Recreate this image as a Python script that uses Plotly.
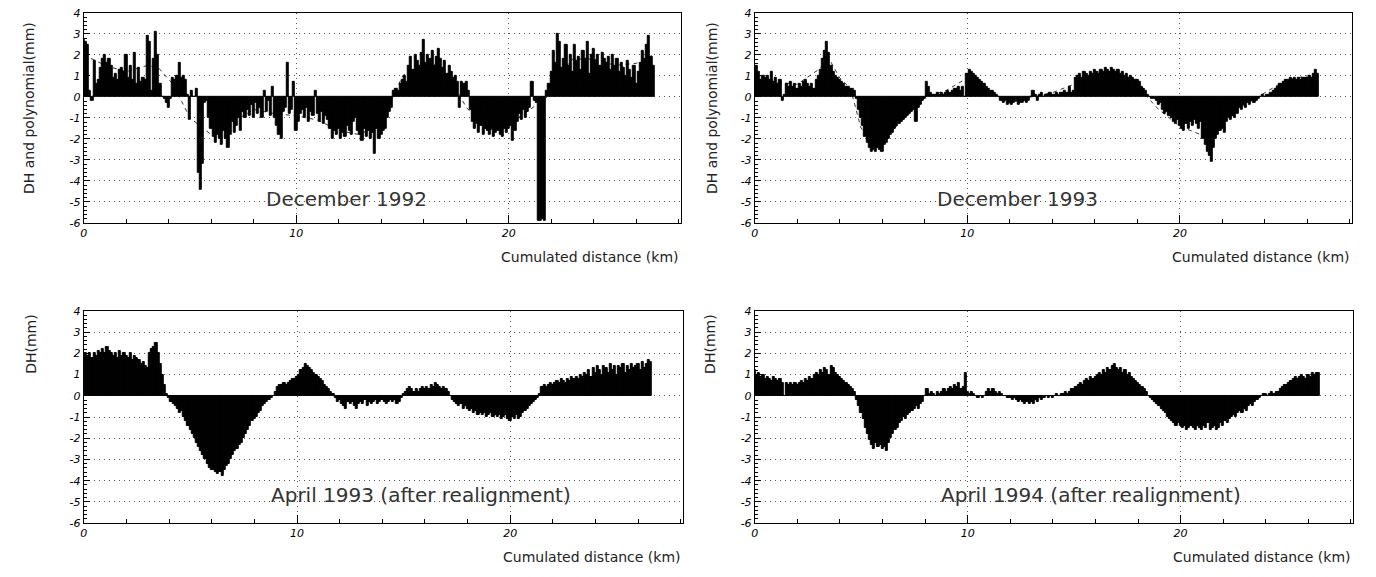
import numpy as np
import plotly.graph_objects as go

# ---------------- data (DH in mm, sampled every 0.1 km from 0 km) ----------------
step_km = 0.1

dec1992 = [
    2.7, 2.6, 2.5, 0.3, -0.2, 1.7, 0.6, 0.8, 1.4, 1.8,
    2.0, 1.6, 1.8, 1.5, 0.9, 1.1, 0.8, 1.3, 1.4, 1.2,
    2.0, 0.9, 1.5, 0.8, 2.1, 0.6, 1.4, 0.7, 0.9, 0.8,
    2.9, 2.6, 0.3, 1.8, 3.1, 2.0, 0.6, 0.0, -0.1, -0.3,
    -0.5, -0.1, 0.9, 0.8, 1.0, 1.6, 0.9, 1.0, 0.8, 0.1,
    -1.1, 0.3, 0.0, 0.4, -3.6, -4.4, -3.2, -0.3, -0.2, -1.0,
    -1.5, -1.9, -2.2, -1.8, -2.0, -2.3, -1.6, -2.0, -2.4, -1.8,
    -1.2, -1.7, -1.4, -1.0, -1.6, -0.7, -1.0, -0.6, -0.9, -0.4,
    -1.0, -0.3, -0.8, -0.5, -1.0, 0.3, -0.7, -0.2, -0.9, 0.5,
    -1.0, -1.4, -1.8, -2.0, -0.7, -0.5, 1.6, -0.8, -0.6, 0.7,
    -1.6, -1.2, -0.8, -0.6, -1.0, -0.5, -1.2, -0.7, -0.9, 0.3,
    -0.8, -1.2, -0.7, -1.3, -0.9, -1.1, -1.5, -2.0, -1.6, -1.8,
    -1.5, -2.0, -1.7, -1.9, -1.4, -1.6, -1.8, -1.2, -1.0, -1.6,
    -1.8, -2.1, -1.5, -1.9, -1.6, -2.0, -1.7, -2.7, -1.5, -2.0,
    -1.8, -1.6, -1.5, -1.0, -0.7, -0.5, 0.3, 0.4, 0.3, 0.6,
    0.8, 1.0, 0.7, 1.5, 1.9, 1.3, 2.0, 1.7, 1.5, 2.1,
    2.7, 1.6, 2.0, 1.8, 2.2, 1.5, 1.9, 2.3, 1.8, 1.4,
    1.7, 1.1, 1.5, 1.2, 0.9, 1.0, 0.7, -0.5, 0.7, 0.6,
    0.7, 0.3, -0.6, -1.2, -1.5, -1.3, -1.7, -1.4, -1.8, -1.5,
    -1.6, -1.8, -1.5, -1.9, -1.7, -1.6, -1.8, -1.9, -1.5, -1.7,
    -1.5, -1.4, -2.1, -1.6, -1.2, -0.8, -1.1, -0.6, -1.0, -0.7,
    -0.5, 0.7, -0.2, -0.3, -5.9, -5.9, -5.8, -5.9, 0.3, 0.6,
    1.2, 2.2, 1.6, 3.0, 2.6, 1.4, 1.8, 2.5, 1.5, 2.0,
    1.2, 2.5, 1.7, 1.9, 1.3, 2.2, 1.8, 2.6, 1.1, 2.0,
    2.3, 1.7, 2.0, 1.5, 2.1, 1.8, 1.6, 1.9, 1.3, 2.0,
    1.5, 1.8, 1.2, 1.6, 1.4, 1.0, 1.7, 1.3, 0.9, 1.5,
    0.6, 1.2, 1.6, 2.2, 1.8, 2.5, 2.9, 1.9, 1.5,
]

dec1993 = [
    1.4, 1.5, 1.2, 0.8, 1.0, 0.9, 1.0, 0.8, 1.2, 0.7,
    0.9, 0.6, 0.8, -0.2, 0.1, 0.6, 0.5, 0.7, 0.5, 0.6,
    0.4, 0.6, 0.5, 0.7, 0.8, 0.6, 0.5, 0.6, 0.4, 0.8,
    1.0, 1.3, 1.8, 2.2, 2.6, 2.1, 1.5, 1.2, 1.0, 0.9,
    0.8, 0.7, 0.6, 0.5, 0.5, 0.4, 0.4, 0.3, -0.1, -0.6,
    -1.0, -1.4, -1.9, -2.2, -2.4, -2.6, -2.5, -2.6, -2.4, -2.5,
    -2.6, -2.3, -2.2, -2.0, -1.8, -1.7, -1.5, -1.4, -1.3, -1.2,
    -1.1, -1.0, -0.9, -0.8, -0.7, -0.6, -1.2, -0.5, -0.4, -0.2,
    -0.1, 0.7, 0.5, 0.2, 0.1, 0.1, 0.2, 0.1, 0.2, 0.1,
    0.2, 0.3, 0.2, 0.3, 0.4, 0.4, 0.5, 0.3, 0.5, 0.0,
    1.1, 1.3, 1.2, 1.1, 1.0, 0.9, 0.8, 0.7, 0.6, 0.5,
    0.4, 0.3, 0.3, 0.2, 0.1, 0.0, -0.2, -0.3, -0.2, -0.4,
    -0.3, -0.4, -0.3, -0.2, -0.4, -0.3, -0.3, -0.2, -0.3, -0.2,
    0.0, 0.3, 0.1, -0.2, 0.1, 0.2, 0.0, 0.1, 0.1, 0.2,
    0.1, 0.1, 0.2, 0.1, 0.2, 0.2, 0.3, 0.2, 0.5, 0.2,
    0.3, 0.9, 1.0, 1.1, 0.9, 1.2, 1.1, 1.0, 1.2, 1.1,
    1.3, 1.2, 1.1, 1.3, 1.2, 1.4, 1.3, 1.2, 1.4, 1.3,
    1.2, 1.3, 1.1, 1.2, 1.0, 1.1, 0.9, 1.0, 0.9, 0.8,
    0.8, 0.7, 0.5, 0.4, 0.3, 0.1, 0.0, -0.1, -0.1, -0.2,
    -0.4, -0.3, -0.6, -0.8, -0.7, -0.9, -1.0, -1.2, -1.3, -1.1,
    -1.4, -1.5, -1.6, -1.3, -1.5, -1.2, -1.4, -1.1, -1.3, -1.5,
    -1.2, -2.0, -2.3, -2.6, -2.8, -3.1, -2.4, -2.0, -1.8, -1.6,
    -1.5, -1.7, -1.2, -1.0, -1.1, -0.9, -1.0, -0.8, -0.5, -0.6,
    -0.4, -0.5, -0.3, -0.4, -0.2, -0.3, -0.2, -0.1, 0.0, 0.1,
    0.0, 0.1, 0.1, 0.2, 0.3, 0.4, 0.5, 0.6, 0.6, 0.7,
    0.8, 0.8, 0.9, 0.8, 0.9, 0.8, 0.9, 0.8, 0.9, 0.9,
    0.9, 1.0, 0.9, 1.1, 1.3, 1.1,
]

apr1993 = [
    1.8, 2.0, 1.9, 2.0, 1.8, 2.0, 1.9, 2.1, 2.0, 2.2,
    2.0, 2.3, 2.1, 2.0, 1.9, 2.0, 1.8, 2.1, 1.9, 2.0,
    1.9, 1.8, 2.0, 1.7, 1.9, 1.8, 1.7, 1.5, 1.6, 1.4,
    1.3, 2.0, 2.2, 2.3, 2.5, 2.0, 1.5, 1.0, 0.5, 0.1,
    -0.1, -0.3, -0.4, -0.5, -0.6, -0.8, -0.7, -1.0, -1.2, -1.4,
    -1.6, -1.8, -2.0, -2.2, -2.4, -2.6, -2.8, -3.0, -3.2, -3.4,
    -3.5, -3.5, -3.6, -3.7, -3.6, -3.8, -3.5, -3.3, -3.2, -3.0,
    -2.8, -2.6, -2.5, -2.3, -2.2, -2.0, -1.8, -1.6, -1.4, -1.2,
    -1.1, -1.0, -0.8, -0.7, -0.5, -0.4, -0.3, -0.2, -0.1, 0.0,
    0.2, 0.4, 0.5, 0.5, 0.6, 0.5, 0.6, 0.7, 0.8, 0.8,
    0.9, 1.0, 1.2, 1.3, 1.5, 1.4, 1.3, 1.2, 1.1, 1.0,
    0.9, 0.8, 0.7, 0.5, 0.4, 0.3, 0.2, 0.1, -0.1, -0.3,
    -0.2, -0.4, -0.5, -0.6, -0.3, -0.4, -0.3, -0.5, -0.6, -0.4,
    -0.3, -0.4, -0.2, -0.5, -0.3, -0.4, -0.3, -0.2, -0.4, -0.3,
    -0.2, -0.3, -0.4, -0.3, -0.2, -0.3, -0.2, -0.4, -0.3, -0.1,
    0.1, 0.2, 0.3, 0.4, 0.3, 0.2, 0.3, 0.2, 0.3, 0.4,
    0.3, 0.4, 0.3, 0.5, 0.4, 0.6, 0.5, 0.4, 0.3, 0.4,
    0.3, 0.2, 0.0, -0.2, -0.3, -0.4, -0.5, -0.4, -0.6, -0.5,
    -0.6, -0.7, -0.6, -0.8, -0.7, -0.9, -0.8, -0.9, -0.8, -1.0,
    -0.9, -0.8, -1.0, -0.9, -1.0, -0.9, -1.1, -1.0, -0.9, -1.1,
    -1.2, -1.0, -1.1, -0.9, -1.1, -1.0, -0.8, -0.7, -0.6, -0.5,
    -0.4, -0.3, -0.2, -0.1, 0.1, 0.4, 0.5, 0.4, 0.5, 0.6,
    0.5, 0.6, 0.7, 0.6, 0.8, 0.7, 0.6, 0.8, 0.7, 0.9,
    0.8, 0.9, 0.8, 1.0, 0.9, 1.1, 1.0, 1.2, 0.9, 1.3,
    1.1, 1.4, 1.2, 1.0, 1.4, 1.3, 1.1, 1.5, 1.2, 1.4,
    1.0, 1.4, 1.3, 1.5, 1.1, 1.4, 1.2, 1.5, 1.3, 1.4,
    1.5, 1.2, 1.6, 1.3, 1.5, 1.7, 1.6,
]

apr1994 = [
    1.2, 1.0, 1.1, 0.9, 1.0, 0.8, 0.9, 0.8, 0.7, 0.9,
    0.8, 0.7, 0.8, 0.6, 0.0, 0.6, 0.5, 0.6, 0.5, 0.6,
    0.5, 0.6, 0.7, 0.6, 0.8, 0.7, 0.9, 0.8, 1.0, 1.1,
    1.0, 1.2, 1.1, 1.3, 1.2, 1.0, 1.4, 1.3, 1.1, 1.0,
    0.9, 0.8, 0.7, 0.6, 0.5, 0.4, 0.3, 0.2, -0.2, -0.5,
    -0.8, -1.1, -1.5, -1.8, -2.1, -2.3, -2.5, -2.2, -2.4, -2.3,
    -2.5, -2.4, -2.6, -2.2, -2.0, -1.8, -1.6, -1.5, -1.3, -1.2,
    -1.0, -1.1, -0.9, -0.8, -0.7, -0.6, -0.5, -0.6, -0.4, -0.3,
    0.0, 0.3, 0.1, 0.2, 0.1, 0.0, 0.2, 0.1, 0.2, 0.3,
    0.2, 0.3, 0.4, 0.3, 0.5, 0.4, 0.6, 0.3, 0.4, 1.1,
    0.2, 0.1, 0.2, 0.1, 0.0, -0.1, 0.0, -0.1, 0.0, 0.2,
    0.3, 0.2, 0.3, 0.2, 0.1, 0.2, 0.1, 0.0, 0.0, -0.1,
    -0.1, -0.2, -0.1, -0.2, -0.3, -0.2, -0.3, -0.4, -0.3, -0.4,
    -0.3, -0.4, -0.2, -0.3, -0.1, -0.2, -0.1, 0.0, -0.1, 0.0,
    -0.1, 0.0, 0.1, 0.0, 0.1, 0.1, 0.2, 0.1, 0.2, 0.3,
    0.3, 0.4, 0.5, 0.6, 0.5, 0.7, 0.8, 0.7, 0.9, 0.8,
    0.9, 1.0, 1.1, 1.0, 1.2, 1.1, 1.3, 1.2, 1.4, 1.5,
    1.3, 1.2, 1.3, 1.1, 1.2, 1.0, 1.1, 0.9, 0.8, 0.7,
    0.6, 0.5, 0.4, 0.3, 0.2, 0.0, -0.1, -0.2, -0.3, -0.4,
    -0.5, -0.6, -0.7, -0.8, -1.0, -1.1, -1.2, -1.3, -1.4, -1.3,
    -1.4, -1.5, -1.4, -1.6, -1.5, -1.4, -1.5, -1.6, -1.4, -1.5,
    -1.6, -1.4, -1.5, -1.3, -1.6, -1.5, -1.4, -1.6, -1.5, -1.3,
    -1.4, -1.2, -1.3, -1.1, -1.0, -0.9, -1.0, -0.8, -0.7, -0.8,
    -0.6, -0.7, -0.5, -0.4, -0.5, -0.3, -0.2, -0.1, 0.0, 0.1,
    0.1, 0.0, 0.1, 0.2, 0.1, 0.2, 0.2, 0.3, 0.4, 0.5,
    0.5, 0.6, 0.7, 0.8, 0.9, 0.8, 0.9, 1.0, 0.9, 0.8,
    1.0, 0.9, 1.1, 1.0, 1.1, 1.1,
]

# smooth polynomial fits drawn (dashed) on the upper panels
poly1992_km = [0, 1, 2, 3, 3.5, 4.2, 5, 6, 7, 8, 9, 10, 11, 12, 13, 14, 15, 16, 17, 18, 19, 20, 21, 21.8, 22.3, 23, 24, 25, 26, 26.8]
poly1992_mm = [2.0, 1.5, 1.2, 1.5, 1.4, 0.6, -1.0, -1.8, -1.2, -0.6, -0.8, -0.9, -1.1, -1.6, -1.8, -1.2, 1.0, 1.8, 1.3, -0.5, -1.6, -1.3, -0.6, 0.0, 1.0, 1.8, 1.8, 1.5, 1.6, 2.0]
poly1993_km = [0, 1, 2, 3, 3.5, 4, 4.5, 5, 6, 7, 8, 9, 10, 11, 12, 13, 14, 15, 16, 17, 18, 19, 20, 21, 22, 23, 24, 25, 26, 26.5]
poly1993_mm = [1.0, 0.7, 0.6, 1.3, 1.8, 0.9, 0.4, -1.5, -2.2, -1.0, 0.0, 0.3, 0.9, 0.3, -0.3, 0.0, 0.2, 0.6, 1.2, 1.1, 0.5, -0.6, -1.4, -1.8, -1.3, -0.4, 0.2, 0.8, 1.0, 1.1]

panel_titles = ["December 1992", "December 1993", "April 1993 (after realignment)", "April 1994 (after realignment)"]
y_titles = ["DH and polynomial(mm)", "DH and polynomial(mm)", "DH(mm)", "DH(mm)"]
x_title = "Cumulated distance (km)"
x_tick_vals = [0, 10, 20]
x_tick_text = ["0", "10", "20"]
y_tick_vals = [4, 3, 2, 1, 0, -1, -2, -3, -4, -5, -6]
y_tick_text = ["4", "3", "2", "1", "0", "-1", "-2", "-3", "-4", "-5", "-6"]

series = [dec1992, dec1993, apr1993, apr1994]
polys = [(poly1992_km, poly1992_mm), (poly1993_km, poly1993_mm), None, None]

# ---------------- layout geometry ----------------
W, H = 1376, 577
x_domains = [(80, 679), (753, 1352), (80, 681), (753, 1353)]
y_domains = [(7, 222), (7, 222), (312, 529), (312, 529)]
X_RANGE = [0, 28.1]
Y_RANGE = [-6, 4]

fig = go.Figure()
tick_font = dict(family="DejaVu Sans", size=11, color="black", style="italic")
label_font = dict(family="DejaVu Sans ExtraLight, DejaVu Sans", size=20, color="#333")
title_font = dict(family="DejaVu Sans ExtraLight, DejaVu Sans", size=14, color="#222")

layout_axes = {}
annotations = []
for i, vals in enumerate(series):
    n = i + 1
    xa = "x" if n == 1 else f"x{n}"
    ya = "y" if n == 1 else f"y{n}"
    xs = np.arange(len(vals)) * step_km
    fig.add_trace(go.Bar(x=xs, y=vals, width=step_km, xaxis=xa, yaxis=ya,
                         marker=dict(color="black", line=dict(color="black", width=1)),
                         showlegend=False))
    if polys[i] is not None:
        pk, pm = polys[i]
        fig.add_trace(go.Scatter(x=pk, y=pm, mode="lines", xaxis=xa, yaxis=ya,
                                 line=dict(color="black", width=0.8, dash="4px,4px"),
                                 showlegend=False))
    x0, x1 = x_domains[i]
    y0, y1 = y_domains[i]
    layout_axes[f"xaxis{'' if n == 1 else n}"] = dict(
        domain=[x0 / W, x1 / W], anchor=ya, range=X_RANGE,
        tickvals=x_tick_vals, ticktext=x_tick_text, tickfont=tick_font,
        ticks="inside", ticklen=8, tickcolor="black",
        minor=dict(dtick=2, tick0=0, ticks="inside", ticklen=4, tickcolor="black", showgrid=False),
        showgrid=True, gridcolor="#555", griddash="1px,4px", gridwidth=1,
        showline=True, linecolor="black", linewidth=1, mirror=True, zeroline=False,
    )
    layout_axes[f"yaxis{'' if n == 1 else n}"] = dict(
        domain=[1 - y1 / H, 1 - y0 / H], anchor=xa, range=Y_RANGE,
        tickvals=y_tick_vals, ticktext=y_tick_text, tickfont=tick_font,
        ticks="inside", ticklen=6, tickcolor="black",
        minor=dict(dtick=0.2, tick0=0, ticks="inside", ticklen=3, tickcolor="black", showgrid=False),
        showgrid=True, gridcolor="#555", griddash="1px,4px", gridwidth=1,
        showline=True, linecolor="black", linewidth=1, mirror=True, zeroline=False,
    )
    # panel label inside plot
    lab_x = 12.35 if i < 2 else 15.8
    lab_y = -4.85 if i < 2 else -4.66
    annotations.append(dict(text=panel_titles[i], xref=xa, yref=ya, x=lab_x, y=lab_y,
                            showarrow=False, font=label_font, xanchor="center", yanchor="middle"))
    # x title, right-aligned under the axis
    annotations.append(dict(text=x_title, xref="paper", yref="paper", x=x1 / W,
                            y=1 - (y1 + 35) / H, xanchor="right", yanchor="middle",
                            showarrow=False, font=title_font))
    # y title, rotated
    if i < 2:
        ty = (y0 + y1) / 2 - 10
        tx = 25 if i == 0 else 710
        annotations.append(dict(text=y_titles[i], xref="paper", yref="paper", x=tx / W,
                                y=1 - ty / H, textangle=-90, xanchor="center", yanchor="middle",
                                showarrow=False, font=title_font))
    else:
        tx = 27 if i == 2 else 708
        annotations.append(dict(text=y_titles[i], xref="paper", yref="paper", x=tx / W,
                                y=1 - 313 / H, textangle=-90, xanchor="center", yanchor="top",
                                showarrow=False, font=title_font))

fig.update_layout(
    width=W, height=H, autosize=False,
    margin=dict(l=0, r=0, t=0, b=0, pad=0),
    paper_bgcolor="white", plot_bgcolor="white",
    bargap=0, barmode="overlay",
    annotations=annotations,
    **layout_axes,
)

fig.write_html("out.html",
               config={"displayModeBar": False},
               post_script="document.body.style.margin='0';document.body.style.overflow='hidden';")
